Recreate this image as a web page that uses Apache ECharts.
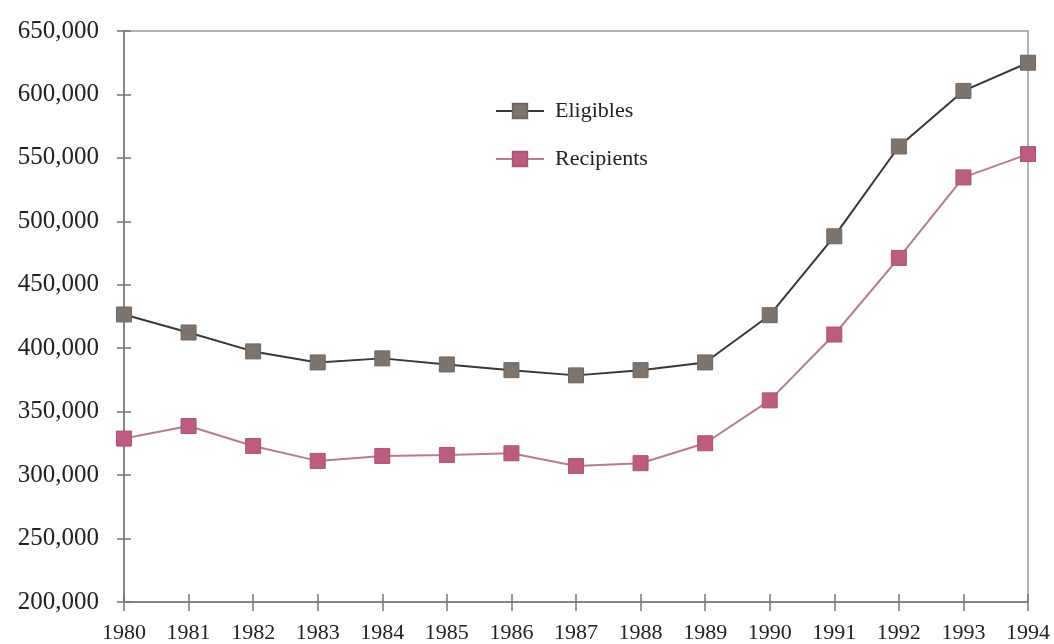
<!DOCTYPE html>
<html>
<head>
<meta charset="utf-8">
<script src="https://cdn.jsdelivr.net/npm/echarts@6/dist/echarts.min.js"></script>
<style>
  html, body { margin: 0; padding: 0; background: #fff; }
  #chart { width: 1054px; height: 644px; }
</style>
</head>
<body>
<div id="chart"></div>
<script>
// Annual counts, 1980-1994
const years = ['1980','1981','1982','1983','1984','1985','1986','1987','1988','1989','1990','1991','1992','1993','1994'];
const eligibles = [426600, 412400, 397500, 388800, 392000, 387200, 382700, 378600, 382700, 388800, 426000, 488200, 559000, 602800, 625000];
const recipients = [328800, 338700, 323000, 311200, 315100, 315900, 317200, 307200, 309400, 325100, 358900, 410800, 471200, 534600, 553000];
const yTicks = { min: 200000, max: 650000, step: 50000 };

const serif = 'Liberation Serif';
const axisGray = '#777';

function fmt(v) {
  return v.toString().replace(/\B(?=(\d{3})+(?!\d))/g, ',');
}

const chart = echarts.init(document.getElementById('chart'), null, { renderer: 'canvas' });

chart.setOption({
  animation: false,
  backgroundColor: '#ffffff',
  grid: {
    left: 124, right: 26, top: 31, bottom: 41,
    show: true, borderColor: '#9a9a9a', borderWidth: 1.5, backgroundColor: 'transparent'
  },
  legend: {
    left: 495, top: 100, orient: 'vertical',
    padding: 0, itemGap: 26, itemWidth: 48, itemHeight: 18,
    textStyle: { fontFamily: serif, fontSize: 22, color: '#222', padding: [0, 0, 0, 6] },
    data: ['Eligibles', 'Recipients']
  },
  xAxis: [
    {
      type: 'category', data: years, boundaryGap: false,
      axisLine: { lineStyle: { color: axisGray, width: 1.5 } },
      axisTick: { inside: false, length: 9, lineStyle: { color: axisGray, width: 1.5 } },
      axisLabel: { fontFamily: serif, fontSize: 22, color: '#222', margin: 20, interval: 0 },
      splitLine: { show: false }
    },
    {
      type: 'category', data: years, boundaryGap: false, position: 'bottom',
      axisLine: { show: false },
      axisTick: { inside: true, length: 8, lineStyle: { color: axisGray, width: 1.5 } },
      axisLabel: { show: false },
      splitLine: { show: false }
    }
  ],
  yAxis: [
    {
      type: 'value', min: yTicks.min, max: yTicks.max, interval: yTicks.step,
      axisLine: { show: true, lineStyle: { color: axisGray, width: 1.5 } },
      axisTick: { show: true, inside: false, length: 7, lineStyle: { color: axisGray, width: 1.5 } },
      axisLabel: { fontFamily: serif, fontSize: 25, color: '#222', margin: 25, formatter: fmt },
      splitLine: { show: false }
    },
    {
      type: 'value', min: yTicks.min, max: yTicks.max, interval: yTicks.step, position: 'left',
      axisLine: { show: false },
      axisTick: { show: true, inside: true, length: 7, lineStyle: { color: axisGray, width: 1.5 } },
      axisLabel: { show: false },
      splitLine: { show: false }
    }
  ],
  series: [
    {
      name: 'Eligibles', type: 'line', data: eligibles,
      xAxisIndex: 0, yAxisIndex: 0,
      symbol: 'rect', symbolSize: 15,
      lineStyle: { color: '#3a3735', width: 2 },
      itemStyle: { color: '#7d746e', borderColor: '#6e665f', borderWidth: 1 },
      z: 3
    },
    {
      name: 'Recipients', type: 'line', data: recipients,
      xAxisIndex: 0, yAxisIndex: 0,
      symbol: 'rect', symbolSize: 15,
      lineStyle: { color: '#b97a93', width: 2 },
      itemStyle: { color: '#bb5c80', borderColor: '#ad5375', borderWidth: 1 },
      z: 3
    }
  ]
});
</script>
</body>
</html>
